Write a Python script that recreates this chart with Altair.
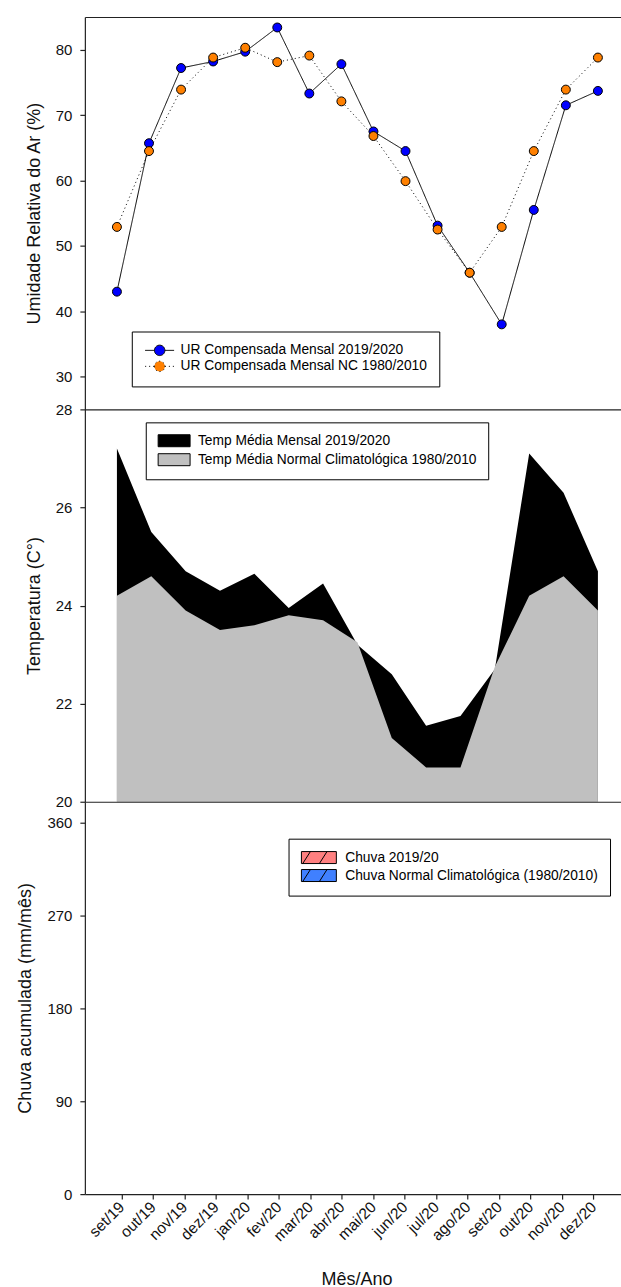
import json

import altair as alt
import pandas as pd

# Months on the shared horizontal axis
meses = ["set/19", "out/19", "nov/19", "dez/19", "jan/20", "fev/20", "mar/20", "abr/20",
         "mai/20", "jun/20", "jul/20", "ago/20", "set/20", "out/20", "nov/20", "dez/20"]

# Relative humidity (%)
ur_2019_2020 = [43.0, 65.7, 77.2, 78.2, 79.7, 83.4, 73.3, 77.8,
                67.5, 64.5, 53.1, 45.9, 38.0, 55.5, 71.5, 73.7]
ur_normal = [52.9, 64.5, 73.9, 78.8, 80.3, 78.1, 79.1, 72.1,
             66.8, 59.9, 52.5, 45.9, 52.9, 64.5, 73.9, 78.8]

# Mean temperature (°C), set/19 .. nov/20
temp_meses = ["set/19", "out/19", "nov/19", "dez/19", "jan/20", "fev/20", "mar/20", "abr/20",
              "mai/20", "jun/20", "jul/20", "ago/20", "set/20", "out/20", "nov/20"]
temp_2019_2020 = [27.2, 25.5, 24.7, 24.3, 24.65, 23.95, 24.45, 23.2,
                  22.6, 21.55, 21.75, 22.7, 27.1, 26.3, 24.7]
temp_normal = [24.2, 24.6, 23.9, 23.5, 23.6, 23.8, 23.7, 23.25,
               21.3, 20.7, 20.7, 22.75, 24.2, 24.6, 23.9]

# Accumulated rain (mm/month): no readings available
chuva_2019_20 = [None, None, None, None, None, None, None, None,
                 None, None, None, None, None, None, None, None]
chuva_normal = [None, None, None, None, None, None, None, None,
                None, None, None, None, None, None, None, None]

serie_ur = ["UR Compensada Mensal 2019/2020", "UR Compensada Mensal NC 1980/2010"]
serie_t = ["Temp Média Mensal 2019/2020", "Temp Média Normal Climatológica 1980/2010"]
serie_c = ["Chuva 2019/20", "Chuva Normal Climatológica (1980/2010)"]

W, H = 537, 393
FONT = "Liberation Sans"
x_scale = alt.Scale(domain=[-1, 15.72], nice=False, zero=False)

n = len(meses)
ur_df = pd.DataFrame({
    "pos": list(range(n)) * 2,
    "mes": meses * 2,
    "ur": ur_2019_2020 + ur_normal,
    "serie_ur": [serie_ur[0]] * n + [serie_ur[1]] * n,
})

# the temperature series is spread evenly across the full month axis
m = len(temp_meses)
passo = (n - 1) / (m - 1)
t_atual = pd.DataFrame({"pos": [k * passo for k in range(m)], "mes": temp_meses,
                        "temp": temp_2019_2020, "serie_t": serie_t[0]})
t_normal = pd.DataFrame({"pos": [k * passo for k in range(m)], "mes": temp_meses,
                         "temp": temp_normal, "serie_t": serie_t[1]})

chuva_df = pd.DataFrame({
    "pos": list(range(n)) * 2,
    "mes": meses * 2,
    "chuva": chuva_2019_20 + chuva_normal,
    "serie_c": [serie_c[0]] * n + [serie_c[1]] * n,
})


def frame_axis(orient):
    return alt.Axis(orient=orient, labels=False, ticks=False, title=None, domain=True)


def y_axis(values, title):
    return alt.Axis(values=values, title=title, tickSize=5, labelPadding=8,
                    titlePadding=12)


# legend symbols: line with a marker, plain box, hatched box
sym_linha = ("M-1,0H0.69M2.59,0H4.27"
             "M0.69,0A0.95,0.95,0,1,0,2.59,0A0.95,0.95,0,1,0,0.69,0Z")
sym_caixa = "M-1,-1H4.333V1H-1Z"
sym_hachura = "M-1,-1H4.833V1H-1ZM-0.78,1L0.5,-1M2,1L3.27,-1"


def legenda(x, y, simbolo, tamanho, deslocamento, pad, linhas_pad, fonte):
    return alt.Legend(title=None, orient="none", legendX=x, legendY=y,
                      fillColor="white", strokeColor="black", padding=pad,
                      labelFont=FONT, labelFontSize=fonte, labelColor="black",
                      labelLimit=0, labelOffset=deslocamento, rowPadding=linhas_pad,
                      symbolType=simbolo, symbolSize=tamanho,
                      symbolStrokeColor="black", symbolStrokeWidth=1,
                      symbolOpacity=1)


# ---- humidity panel ----
leg_ur = legenda(47, 315, sym_linha, 121, 23, 12, 0, 13.8)
y_ur = alt.Y("ur:Q", scale=alt.Scale(domain=[25, 85], nice=False, zero=False),
             axis=y_axis([30, 40, 50, 60, 70, 80], "Umidade Relativa do Ar (%)"))

linhas = alt.Chart(ur_df).mark_line(color="black", strokeWidth=1).encode(
    x=alt.X("pos:Q", scale=x_scale, axis=frame_axis("bottom")),
    y=y_ur,
    strokeDash=alt.StrokeDash("serie_ur:N",
                              scale=alt.Scale(domain=serie_ur, range=[[1, 0], [1, 3]]),
                              legend=leg_ur),
)
pontos = alt.Chart(ur_df).mark_circle(size=80, opacity=1, stroke="black",
                                      strokeWidth=1).encode(
    x=alt.X("pos:Q", scale=x_scale, axis=frame_axis("top")),
    y=y_ur,
    fill=alt.Fill("serie_ur:N",
                  scale=alt.Scale(domain=serie_ur, range=["#0000ff", "#ff8000"]),
                  legend=leg_ur),
)
painel_ur = alt.layer(linhas, pontos).resolve_axis(x="independent").properties(
    width=W, height=H)

# ---- temperature panel ----
leg_t = legenda(61, 13, sym_caixa, 144, 27, 11.5, 2, 13.8)
fill_t = alt.Fill("serie_t:N",
                  scale=alt.Scale(domain=serie_t, range=["#000000", "#c0c0c0"]),
                  legend=leg_t)
y_t = alt.Y("temp:Q", scale=alt.Scale(domain=[20, 28], nice=False, zero=False),
            axis=y_axis([20, 22, 24, 26, 28], "Temperatura (C°)"))
x_t = alt.X("pos:Q", scale=x_scale, axis=frame_axis("bottom"))

area_atual = alt.Chart(t_atual).mark_area(opacity=1).encode(
    x=x_t, y=y_t, y2=alt.datum(20), fill=fill_t)
area_normal = alt.Chart(t_normal).mark_area(opacity=1).encode(
    x=x_t, y=y_t, y2=alt.datum(20), fill=fill_t)
painel_t = alt.layer(area_atual, area_normal).properties(width=W, height=H)

# ---- rain panel ----
leg_c = legenda(204, 37, sym_hachura, 144, 31, 12, 1, 13.8)
eixo_meses = alt.Axis(
    values=list(range(n)),
    labelExpr=f"{json.dumps(meses)}[datum.value]",
    labelAngle=-45, labelAlign="right", labelBaseline="middle",
    labelFontSize=15.5, tickSize=5, labelPadding=5, labelOverlap=False, labelBound=False,
    title="Mês/Ano", titleFontSize=18, titlePadding=26, titleX=272,
)
barras = alt.Chart(chuva_df).mark_bar(stroke="black", strokeWidth=1, size=12).encode(
    x=alt.X("pos:Q", scale=x_scale, axis=eixo_meses),
    y=alt.Y("chuva:Q", scale=alt.Scale(domain=[0, 380], nice=False, zero=False),
            axis=y_axis([0, 90, 180, 270, 360], "Chuva acumulada (mm/mês)")),
    fill=alt.Fill("serie_c:N",
                  scale=alt.Scale(domain=serie_c, range=["#ff8080", "#4080ff"]),
                  legend=leg_c),
)
painel_c = barras.properties(width=W, height=H)

chart = alt.vconcat(painel_ur, painel_t, painel_c, spacing=0, bounds="flush").resolve_scale(
    fill="independent", strokeDash="independent"
).resolve_legend(fill="independent", strokeDash="independent").properties(
    padding={"left": 16, "top": 16, "right": 0, "bottom": 0}
).configure(font=FONT).configure_view(stroke=None).configure_axis(
    grid=False, domainColor="#222", tickColor="#222", domainWidth=1.2, tickWidth=1.2,
    labelColor="#111", titleColor="#111", labelFont=FONT, titleFont=FONT,
    labelFontSize=15, titleFontSize=18, titleFontWeight="normal",
)

chart.save("out.html", embed_options={"renderer": "svg", "actions": False})
